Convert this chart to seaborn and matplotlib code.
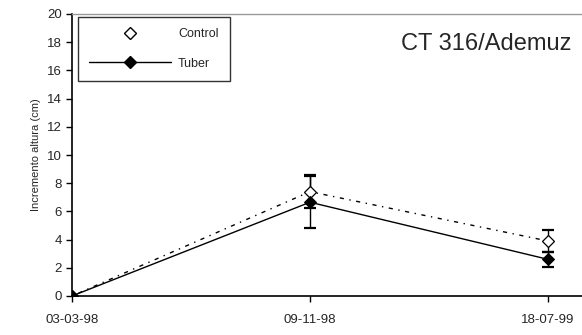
import matplotlib
matplotlib.use("Agg")
import matplotlib.pyplot as plt
import seaborn as sns
import pandas as pd
from matplotlib.lines import Line2D

dates = ["03-03-98", "09-11-98", "18-07-99"]
control = [0.0, 7.4, 3.9]
control_err = [0.0, 1.15, 0.75]
tuber = [0.0, 6.65, 2.6]
tuber_err = [0.0, 1.85, 0.55]

sns.set_style("ticks")
plt.rcParams["font.family"] = ["Liberation Sans", "DejaVu Sans"]

df = pd.DataFrame({
    "pos": list(range(len(dates))) * 2,
    "value": control + tuber,
    "serie": ["Control"] * len(dates) + ["Tuber"] * len(dates),
})

fig = plt.figure(figsize=(5.82, 3.35), dpi=100)
ax = fig.add_axes([72 / 582, 39 / 335, 512 / 582, 282 / 335])

sub_c = df[df.serie == "Control"]
sub_t = df[df.serie == "Tuber"]
sns.lineplot(data=sub_c, x="pos", y="value", ax=ax, color="black", lw=1.0,
             linestyle=(0, (1, 4, 3, 4)), marker="D", markersize=6,
             markerfacecolor="white", markeredgecolor="black", markeredgewidth=0.9,
             legend=False, zorder=3)
sns.lineplot(data=sub_t, x="pos", y="value", ax=ax, color="black", lw=1.0,
             marker="D", markersize=6, markerfacecolor="black",
             markeredgecolor="black", legend=False, zorder=4)

pos = list(range(len(dates)))
ax.errorbar(pos[1:], control[1:], yerr=control_err[1:], fmt="none",
            ecolor="black", elinewidth=1.0, capsize=4, capthick=1.6, zorder=2)
ax.errorbar(pos[1:], tuber[1:], yerr=tuber_err[1:], fmt="none",
            ecolor="black", elinewidth=1.0, capsize=4, capthick=1.6, zorder=2)

ax.set_xlim(0, 512 / 238)
ax.set_ylim(0, 20)
ax.set_yticks(range(0, 21, 2))
ax.set_xticks(pos)
ax.set_xticklabels(dates)
ax.set_xlabel("")
ax.set_ylabel("Incremento altura (cm)", fontsize=8, labelpad=4)
ax.tick_params(axis="both", labelsize=9.5, length=4, width=1, color="black")
ax.tick_params(axis="x", pad=9)

for s in ("left", "bottom"):
    ax.spines[s].set_color("black")
    ax.spines[s].set_linewidth(1.2)
ax.spines["top"].set_color("#999999")
ax.spines["top"].set_linewidth(1.0)
ax.spines["right"].set_visible(False)

ax.text(0.975, 0.893, "CT 316/Ademuz", transform=ax.transAxes, ha="right",
        va="center", fontsize=17)

handles = [
    Line2D([], [], linestyle="none", marker="D", markersize=6,
           markerfacecolor="white", markeredgecolor="black"),
    Line2D([], [], color="black", lw=1.0, marker="D", markersize=6,
           markerfacecolor="black", markeredgecolor="black"),
]
leg = ax.legend(handles, ["Control", "Tuber"], loc="upper left",
                bbox_to_anchor=(0.012, 0.99), frameon=True, fancybox=False,
                edgecolor="black", fontsize=9, handlelength=6.5,
                borderpad=0.9, labelspacing=1.4, handletextpad=0.6,
                borderaxespad=0)
leg.get_frame().set_linewidth(1.0)

fig.savefig("out.png", dpi=100)
